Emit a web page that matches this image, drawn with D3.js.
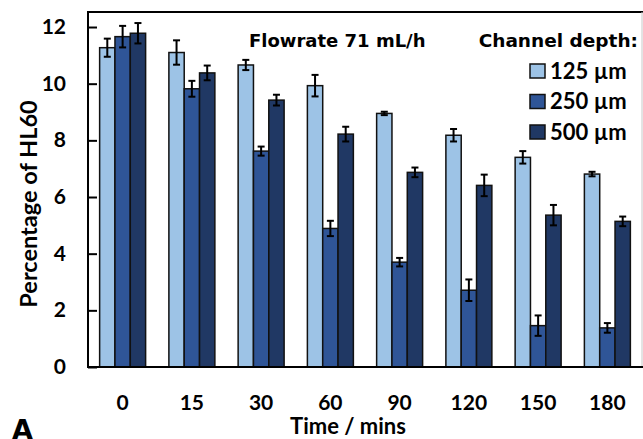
<!DOCTYPE html>
<html>
<head>
<meta charset="utf-8">
<script src="https://cdn.jsdelivr.net/npm/d3@7.9.0/dist/d3.min.js"></script>
<style>
  html, body { margin: 0; padding: 0; background: #fff; }
  svg { display: block; }
  .lbl { font-family: Lato, "Open Sans", sans-serif; font-weight: 700; fill: #000; }
  .note { font-family: "DejaVu Sans", Verdana, sans-serif; font-weight: 700; fill: #000; }
</style>
</head>
<body>
<div id="chart"></div>
<script>
// time points (x categories)
const times = ['0', '15', '30', '60', '90', '120', '150', '180'];
// channel depths (series)
const depths = ['125 µm', '250 µm', '500 µm'];
const colors = ['#9dc3e6', '#2f5597', '#203864'];

// percentage of HL60, mean per depth
const mean125 = [11.27, 11.10, 10.66, 9.93, 8.95, 8.18, 7.40, 6.81];
const mean250 = [11.66, 9.82, 7.62, 4.89, 3.70, 2.71, 1.46, 1.38];
const mean500 = [11.78, 10.38, 9.42, 8.22, 6.87, 6.41, 5.36, 5.14];
// error bar half-widths
const err125 = [0.32, 0.43, 0.18, 0.38, 0.06, 0.22, 0.22, 0.08];
const err250 = [0.38, 0.28, 0.16, 0.27, 0.15, 0.38, 0.36, 0.17];
const err500 = [0.36, 0.26, 0.19, 0.26, 0.17, 0.38, 0.36, 0.17];

const yTicks = [0, 2, 4, 6, 8, 10, 12];

const means = [mean125, mean250, mean500];
const errs = [err125, err250, err500];
const rows = [];
times.forEach((t, i) => depths.forEach((d, j) => {
  rows.push({ time: t, depth: d, k: j, v: means[j][i], e: errs[j][i] });
}));

const W = 643, H = 439;
const L = 88, R = 642, T = 12, B = 367;

const svg = d3.select('#chart').append('svg')
  .attr('width', W).attr('height', H);

const x = d3.scaleBand().domain(times).range([L, R])
  .paddingInner(0.336).paddingOuter(0.168);
const x1 = d3.scaleBand().domain(depths).range([0, x.bandwidth()]);
const y = d3.scaleLinear().domain([0, 12.53]).range([B, T]);

// frame: top line and faint right line
svg.append('line').attr('x1', L).attr('x2', W).attr('y1', T).attr('y2', T)
  .attr('stroke', '#000').attr('stroke-width', 2);
svg.append('line').attr('x1', R).attr('x2', R).attr('y1', T).attr('y2', B)
  .attr('stroke', '#c8c8c8').attr('stroke-width', 1);

// bars
const g = svg.append('g');
g.selectAll('rect').data(rows).join('rect')
  .attr('x', d => x(d.time) + x1(d.depth))
  .attr('y', d => y(d.v))
  .attr('width', x1.bandwidth())
  .attr('height', d => y(0) - y(d.v))
  .attr('fill', d => colors[d.k])
  .attr('stroke', '#111').attr('stroke-width', 1.5);

// error bars
const eb = svg.append('g').attr('stroke', '#000').attr('stroke-width', 2);
rows.forEach(d => {
  const cx = x(d.time) + x1(d.depth) + x1.bandwidth() / 2;
  const y0 = y(d.v - d.e), y1 = y(d.v + d.e);
  eb.append('line').attr('x1', cx).attr('x2', cx).attr('y1', y0).attr('y2', y1);
  eb.append('line').attr('x1', cx - 3.5).attr('x2', cx + 3.5).attr('y1', y0).attr('y2', y0);
  eb.append('line').attr('x1', cx - 3.5).attr('x2', cx + 3.5).attr('y1', y1).attr('y2', y1);
});

// y axis with inward ticks
const yAxis = svg.append('g').attr('transform', `translate(${L},0)`)
  .call(d3.axisRight(y).tickValues(yTicks).tickSize(9).tickFormat(''));
yAxis.select('.domain').remove();
yAxis.selectAll('line').attr('stroke', '#000').attr('stroke-width', 2);
svg.append('line').attr('x1', L).attr('x2', L).attr('y1', T - 1).attr('y2', B + 1)
  .attr('stroke', '#000').attr('stroke-width', 2);
svg.append('g').selectAll('text').data(yTicks).join('text')
  .attr('class', 'lbl')
  .attr('x', 66).attr('y', d => y(d) + 7)
  .attr('text-anchor', 'end').attr('font-size', 21)
  .text(d => d);

// x axis
svg.append('line').attr('x1', L - 1).attr('x2', W).attr('y1', B).attr('y2', B)
  .attr('stroke', '#000').attr('stroke-width', 2);
svg.append('g').selectAll('text').data(times).join('text')
  .attr('class', 'lbl')
  .attr('x', d => x(d) + x.bandwidth() / 2).attr('y', 410)
  .attr('text-anchor', 'middle').attr('font-size', 21)
  .text(d => d);

// axis titles
svg.append('text').attr('class', 'lbl')
  .attr('x', 348).attr('y', 434).attr('text-anchor', 'middle')
  .attr('font-size', 22).text('Time / mins');
svg.append('text').attr('class', 'lbl')
  .attr('transform', 'translate(37,204) rotate(-90)')
  .attr('text-anchor', 'middle').attr('font-size', 23.5)
  .text('Percentage of HL60');

// panel letter
svg.append('text').attr('class', 'note')
  .attr('x', 12).attr('y', 439).attr('font-size', 27).text('A');

// annotations
svg.append('text').attr('class', 'note')
  .attr('x', 249).attr('y', 47).attr('font-size', 18)
  .text('Flowrate 71 mL/h');
svg.append('text').attr('class', 'note')
  .attr('x', 638).attr('y', 47).attr('text-anchor', 'end').attr('font-size', 18.5)
  .text('Channel depth:');

// legend
const leg = svg.append('g').selectAll('g').data(depths).join('g')
  .attr('transform', (d, i) => `translate(530,${64 + i * 30.5})`);
leg.append('rect').attr('width', 15).attr('height', 14)
  .attr('fill', (d, i) => colors[i]).attr('stroke', '#111').attr('stroke-width', 1.5);
leg.append('text').attr('class', 'lbl')
  .attr('x', 20).attr('y', 14.5).attr('font-size', 22)
  .text(d => d);
</script>
</body>
</html>
